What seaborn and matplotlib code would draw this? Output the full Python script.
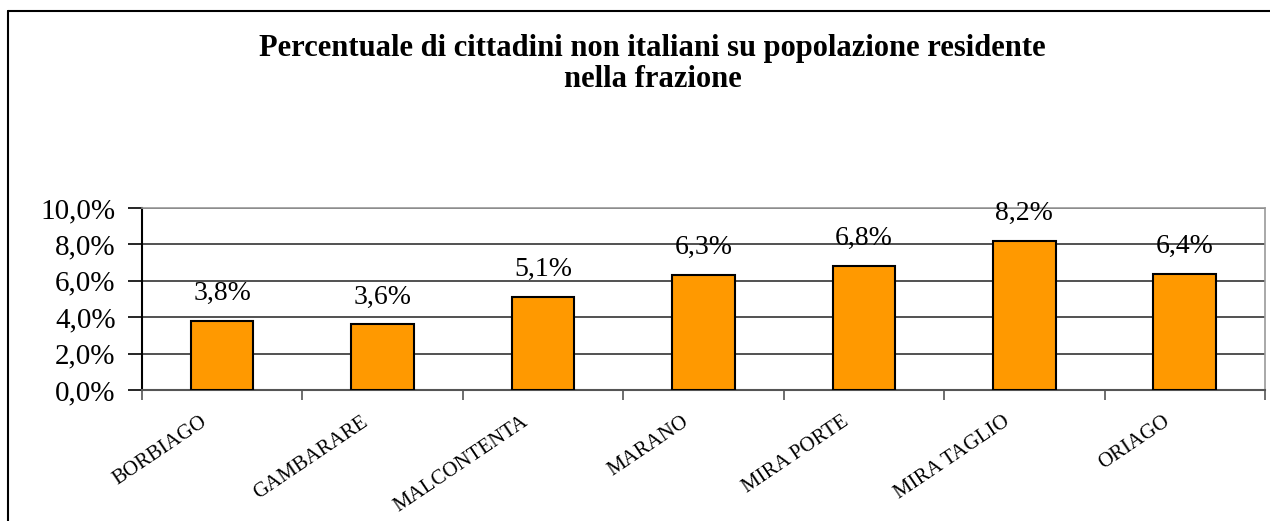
import matplotlib
matplotlib.use("Agg")
import matplotlib.pyplot as plt
import matplotlib.transforms as mtransforms
from matplotlib.lines import Line2D
import seaborn as sns
import pandas as pd

# data
frazioni = ["BORBIAGO", "GAMBARARE", "MALCONTENTA", "MARANO",
            "MIRA PORTE", "MIRA TAGLIO", "ORIAGO"]
percentuali = [3.8, 3.6, 5.1, 6.3, 6.8, 8.2, 6.4]
y_ticks = [0, 2, 4, 6, 8, 10]
titolo = "Percentuale di cittadini non italiani su popolazione residente\nnella frazione"


def fmt_pct(v):
    return f"{v:.1f}%".replace(".", ",")


def main():
    sns.set_style("white")
    plt.rcParams["font.family"] = ["Liberation Serif", "DejaVu Serif"]
    plt.rcParams["text.color"] = "black"
    plt.rcParams["xtick.color"] = "black"
    plt.rcParams["ytick.color"] = "black"

    df = pd.DataFrame({"frazione": frazioni, "pct": percentuali})

    fig = plt.figure(figsize=(12.7, 5.21), dpi=100)
    ax = fig.add_axes([0.1118, 0.2514, 0.8842, 0.3494])

    sns.barplot(data=df, x="frazione", y="pct", color="#FF9900",
                edgecolor="black", linewidth=1.5, width=0.39,
                saturation=1, ax=ax, zorder=3)

    ax.set_xlim(-0.5, len(frazioni) - 0.5)
    ax.set_ylim(0, 10)
    ax.set_yticks(y_ticks)
    ax.set_yticklabels([fmt_pct(v) for v in y_ticks], fontsize=21)
    ax.yaxis.grid(True, color="#222222", linewidth=1.1, zorder=0)
    ax.tick_params(axis="y", direction="out", length=10, width=1.2,
                   color="black", labelcolor="black", pad=9, left=True)

    # ticks between categories, labels centred under bars
    ax.set_xticks([i - 0.5 for i in range(len(frazioni) + 1)])
    ax.set_xticklabels([])
    ax.tick_params(axis="x", which="major", direction="out", length=7,
                   width=1.2, color="#555555", bottom=True)
    ax.set_xticks(range(len(frazioni)), minor=True)
    ax.set_xticklabels(frazioni, minor=True, rotation=34, fontsize=15,
                       ha="right", va="top", rotation_mode="anchor",
                       color="black")
    ax.tick_params(axis="x", which="minor", length=0, pad=16)
    shift = mtransforms.ScaledTranslation(-0.22, 0, fig.dpi_scale_trans)
    for lab in ax.get_xticklabels(minor=True):
        lab.set_transform(lab.get_transform() + shift)

    ax.set_xlabel("")
    ax.set_ylabel("")

    for sp in ["top", "right"]:
        ax.spines[sp].set_color("#999999")
        ax.spines[sp].set_linewidth(1.2)
    ax.spines["bottom"].set_color("#555555")
    ax.spines["bottom"].set_linewidth(1.5)
    ax.spines["left"].set_color("black")
    ax.spines["left"].set_linewidth(1.5)

    for i, v in enumerate(percentuali):
        ax.annotate(fmt_pct(v), (i, v), xytext=(0, 15),
                    textcoords="offset pixels", ha="center", va="bottom",
                    fontsize=20, color="black")

    fig.text(0.514, 0.935, titolo, ha="center", va="top", fontsize=22,
             fontweight="bold", linespacing=1.1, color="black")

    # outer frame (only top and left edges visible in the reference)
    fig.add_artist(Line2D([8 / 1270, 1], [1 - 11 / 521] * 2,
                          transform=fig.transFigure, color="black", lw=1.5))
    fig.add_artist(Line2D([8 / 1270] * 2, [0, 1 - 11 / 521],
                          transform=fig.transFigure, color="black", lw=1.5))

    fig.savefig("out.png", dpi=100)


if __name__ == "__main__":
    main()
